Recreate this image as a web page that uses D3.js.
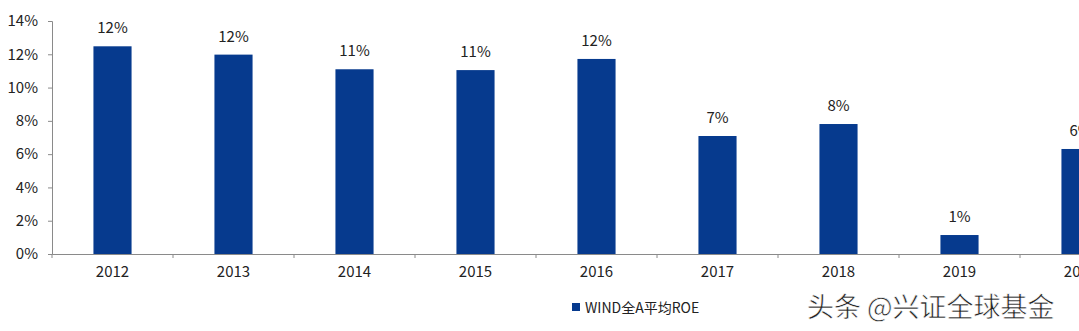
<!DOCTYPE html>
<html>
<head>
<meta charset="utf-8">
<script src="https://cdn.jsdelivr.net/npm/d3@7"></script>
<style>
  html, body { margin: 0; padding: 0; background: #fff; overflow: hidden; }
  svg { display: block; }
  text { font-family: "Noto Sans CJK SC", "Noto Sans", sans-serif; fill: #222; }
</style>
</head>
<body>
<svg id="chart" width="1079" height="331"></svg>
<script>
// Average ROE of the WIND All-A universe, in percent
const years = ["2012", "2013", "2014", "2015", "2016", "2017", "2018", "2019", "2020"];
const roe = [12.48, 11.98, 11.1, 11.05, 11.72, 7.09, 7.81, 1.14, 6.31];
const yTicks = [0, 2, 4, 6, 8, 10, 12, 14];
const seriesName = "WIND全A平均ROE";
const credit = "头条 @兴证全球基金";

const svg = d3.select("#chart");
const axisColor = "#8a8a8a";
const barColor = "#063a8e";
const fmt = d3.format(".0%");

const plotLeft = 52, bandW = 121, plotTop = 21, plotBottom = 254;

const x = d3.scaleBand()
  .domain(years)
  .range([plotLeft, plotLeft + bandW * years.length])
  .paddingInner(0.685)
  .paddingOuter(0.3425);

const y = d3.scaleLinear().domain([0, 14]).range([plotBottom, plotTop]);

// y axis
const yAxis = svg.append("g")
  .attr("transform", `translate(${plotLeft},0)`)
  .call(d3.axisLeft(y).tickValues(yTicks).tickSize(4).tickPadding(10)
    .tickFormat(d => fmt(d / 100)));
yAxis.select(".domain").attr("stroke", axisColor);
yAxis.selectAll(".tick line").attr("stroke", axisColor);
yAxis.selectAll(".tick text").attr("font-size", 15).attr("fill", "#222")
  .attr("font-family", "\"Noto Sans CJK SC\", sans-serif");

// bars
svg.append("g").selectAll("rect")
  .data(years.map((yr, i) => ({ yr, v: roe[i] })))
  .join("rect")
  .attr("x", d => x(d.yr))
  .attr("width", x.bandwidth())
  .attr("y", d => y(d.v))
  .attr("height", d => y(0) - y(d.v))
  .attr("fill", barColor);

// value labels
svg.append("g").selectAll("text")
  .data(years.map((yr, i) => ({ yr, v: roe[i] })))
  .join("text")
  .attr("x", d => x(d.yr) + x.bandwidth() / 2)
  .attr("y", d => y(d.v) - 13)
  .attr("text-anchor", "middle")
  .attr("font-size", 15)
  .text(d => fmt(d.v / 100));

// x axis: baseline, category labels, boundary ticks
const xAxis = svg.append("g")
  .attr("transform", `translate(0,${plotBottom})`)
  .call(d3.axisBottom(x).tickSize(0).tickPadding(12));
xAxis.select(".domain").attr("stroke", axisColor);
xAxis.selectAll(".tick text").attr("font-size", 15).attr("fill", "#222")
  .attr("font-family", "\"Noto Sans CJK SC\", sans-serif");

svg.append("g").selectAll("line")
  .data(d3.range(years.length + 1))
  .join("line")
  .attr("x1", i => plotLeft + i * x.step())
  .attr("x2", i => plotLeft + i * x.step())
  .attr("y1", plotBottom)
  .attr("y2", plotBottom + 4)
  .attr("stroke", axisColor);

// legend
const legend = svg.append("g").attr("transform", "translate(572,303)");
legend.append("rect").attr("width", 8).attr("height", 8).attr("fill", barColor);
legend.append("text").attr("x", 13).attr("y", 9.5).attr("font-size", 14).text(seriesName);

// credit line
svg.append("text")
  .attr("x", 807).attr("y", 317)
  .attr("font-size", 27)
  .attr("fill", "#1a1a1a")
  .attr("stroke", "#fff").attr("stroke-width", 0.6)
  .text(credit);
</script>
</body>
</html>
